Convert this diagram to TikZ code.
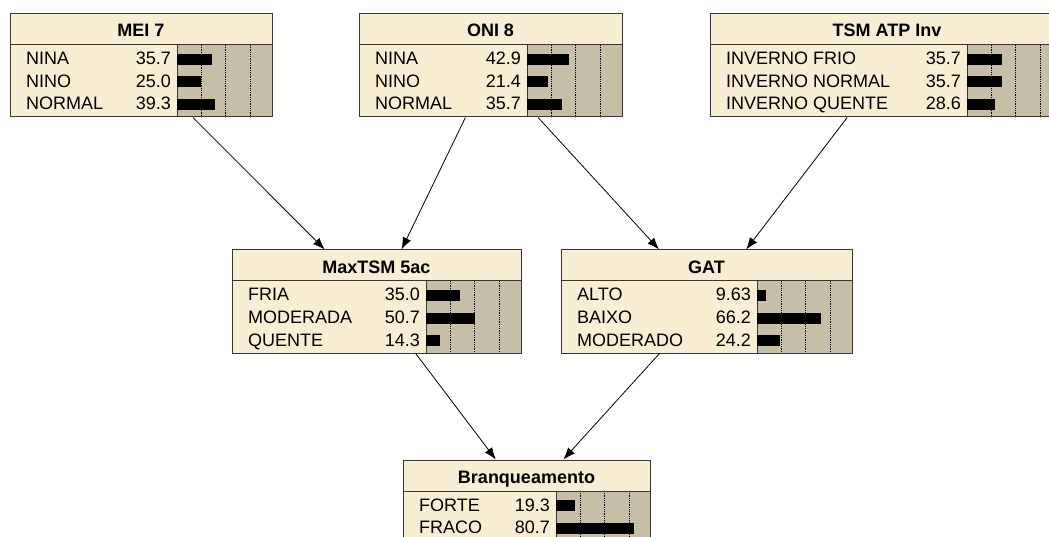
\documentclass[tikz,border=0pt]{standalone}
\usepackage{fontspec}
\setmainfont{Liberation Sans}
\usetikzlibrary{arrows.meta}
\definecolor{bncream}{RGB}{248,238,212}
\definecolor{bnbar}{RGB}{199,190,168}
\definecolor{bnframe}{RGB}{55,55,55}
\newcommand{\bnfont}{\fontsize{18}{21}\selectfont}
\tikzset{font=\bnfont}
\tikzstyle{bnbox}=[rectangle,draw=bnframe,line width=1pt,inner sep=0pt]
\tikzstyle{bntitle}=[font=\bnfont\bfseries,inner sep=0pt,anchor=base]
\tikzstyle{bnstate}=[inner sep=0pt]
\tikzstyle{bngrid}=[densely dotted,line width=0.8pt]

% #1 name, #2 left, #3 top, #4 right, #5 left of the bars,
% #6 number of states, #7 title, #8 state/percent list
\newcommand{\bnnode}[8]{%
  \pgfmathsetmacro{\bnh}{35.5+22.5*#6}
  \fill[bncream] (#2,#3) rectangle (#4,#3+31);
  \fill[bncream] (#2,#3+31) rectangle (#5,#3+\bnh);
  \fill[bnbar] (#5,#3+31) rectangle (#4,#3+\bnh);
  \foreach \g in {24.3,48.6,72.9}
    \draw[bngrid] (#5+\g,#3+31) -- (#5+\g,#3+\bnh);
  \draw[bnframe,line width=1pt] (#2,#3+31) -- (#4,#3+31) (#5,#3+31) -- (#5,#3+\bnh);
  \node[bntitle] at ({(#2+#4)/2},#3+23) {#7};
  \foreach \lab/\val [count=\i] in {#8} {
    \pgfmathsetmacro{\bny}{#3+51+22.5*(\i-1)}
    \node[bnstate,anchor=base west] at (#2+16,\bny) {\lab};
    \node[bnstate,anchor=base east] at (#5-6,\bny) {\val};
    \fill (#5,\bny-11) rectangle (#5+0.97*\val,\bny);
  }
  \node[bnbox,minimum width={#4-#2},minimum height=\bnh] (#1) at ({(#2+#4)/2},{#3+\bnh/2}) {};
}

\begin{document}
\begin{tikzpicture}[x=1pt,y=-1pt]
\useasboundingbox (0,0) rectangle (1049,537);
\clip (0,0) rectangle (1049,537);
\bnnode{mei}{10}{14}{272}{177}{3}{MEI 7}{NINA/35.7,NINO/25.0,NORMAL/39.3}
\bnnode{oni}{359}{14}{622}{527}{3}{ONI 8}{NINA/42.9,NINO/21.4,NORMAL/35.7}
\bnnode{tsm}{710}{14}{1064}{967}{3}{TSM ATP Inv}{INVERNO FRIO/35.7,INVERNO NORMAL/35.7,INVERNO QUENTE/28.6}
\bnnode{maxtsm}{232}{250}{521}{426}{3}{MaxTSM 5ac}{FRIA/35.0,MODERADA/50.7,QUENTE/14.3}
\bnnode{gat}{561}{250}{852}{757}{3}{GAT}{ALTO/9.63,BAIXO/66.2,MODERADO/24.2}
\bnnode{bra}{403}{460}{650}{556}{2}{Branqueamento}{FORTE/19.3,FRACO/80.7}
\path[->,>={Latex[length=12pt,width=9pt]},line width=0.8pt]
(mei) edge (maxtsm)
(oni) edge (maxtsm)
(oni) edge (gat)
(tsm) edge (gat)
(maxtsm) edge (bra)
(gat) edge (bra);
\end{tikzpicture}
\end{document}
